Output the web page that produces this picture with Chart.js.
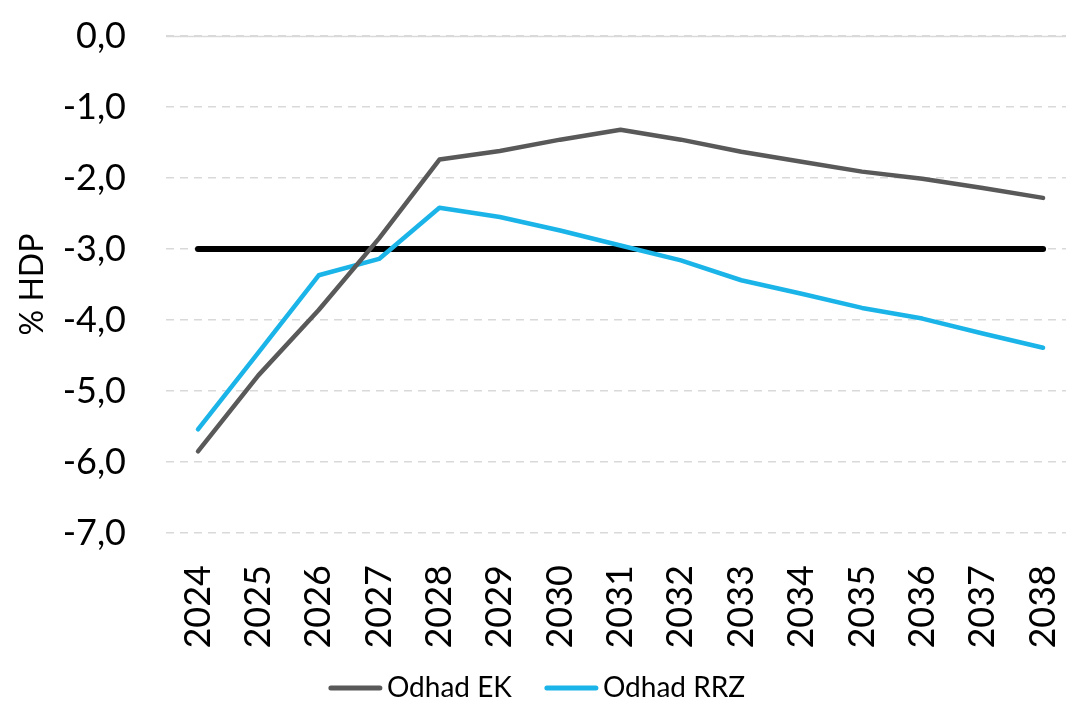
<!DOCTYPE html>
<html>
<head>
<meta charset="utf-8">
<script src="https://cdn.jsdelivr.net/npm/chart.js@4"></script>
<style>
  html, body { margin: 0; padding: 0; background: #fff; }
  #wrap { width: 1066px; height: 701px; }
</style>
</head>
<body>
<div id="wrap"><canvas id="chart"></canvas></div>
<script>
// --- Data ---
const years = [2024, 2025, 2026, 2027, 2028, 2029, 2030, 2031, 2032, 2033, 2034, 2035, 2036, 2037, 2038];
const odhadEK  = [-5.85, -4.78, -3.86, -2.85, -1.74, -1.62, -1.46, -1.32, -1.46, -1.63, -1.77, -1.91, -2.01, -2.14, -2.28];
const odhadRRZ = [-5.54, -4.46, -3.37, -3.14, -2.42, -2.55, -2.74, -2.95, -3.16, -3.44, -3.63, -3.83, -3.98, -4.19, -4.39];
const limit    = [-3, -3, -3, -3, -3, -3, -3, -3, -3, -3, -3, -3, -3, -3, -3];
const yTicks   = [0, -1, -2, -3, -4, -5, -6, -7];

const FONT = 'Lato, "Open Sans", sans-serif';
const pts = arr => arr.map((v, i) => ({ x: years[i], y: v }));

// solid line at 0 (top gridline), the rest are dashed
const zeroLine = {
    id: 'zeroLine',
    beforeDatasetsDraw(chart) {
        const { ctx, chartArea, scales } = chart;
        const y = Math.round(scales.y.getPixelForValue(0)) + 0.5;
        ctx.save();
        ctx.strokeStyle = '#d9d9d9';
        ctx.lineWidth = 1.5;
        ctx.beginPath();
        ctx.moveTo(chartArea.left, y);
        ctx.lineTo(chartArea.right, y);
        ctx.stroke();
        ctx.restore();
    }
};

// legend like the excel one: short line, small gap, text
const lineLegend = {
    id: 'lineLegend',
    afterDraw(chart) {
        const { ctx } = chart;
        const items = chart.data.datasets.filter(d => d.showInLegend);
        const lineW = 53, gap = 5, itemGap = 33, y = 688;
        ctx.save();
        ctx.font = '28px ' + FONT;
        const widths = items.map(d => lineW + gap + ctx.measureText(d.label).width);
        const total = widths.reduce((a, b) => a + b, 0) + itemGap * (items.length - 1);
        let x = (chart.width - total) / 2 + 4;
        items.forEach((d, i) => {
            ctx.strokeStyle = d.borderColor;
            ctx.lineWidth = 5;
            ctx.lineCap = 'round';
            ctx.beginPath();
            ctx.moveTo(x + 2, y);
            ctx.lineTo(x + lineW - 2, y);
            ctx.stroke();
            ctx.fillStyle = '#000';
            ctx.textBaseline = 'middle';
            ctx.fillText(d.label, x + lineW + gap, y);
            x += widths[i] + itemGap;
        });
        ctx.restore();
    }
};

new Chart(document.getElementById('chart'), {
    type: 'line',
    data: {
        datasets: [
            { label: 'Odhad EK', showInLegend: true, data: pts(odhadEK), borderColor: '#595959', borderWidth: 4.5, pointRadius: 0, borderCapStyle: 'round', borderJoinStyle: 'round' },
            { label: 'Odhad RRZ', showInLegend: true, data: pts(odhadRRZ), borderColor: '#1ab4e8', borderWidth: 4.5, pointRadius: 0, borderCapStyle: 'round', borderJoinStyle: 'round' },
            { label: 'limit', data: pts(limit), borderColor: '#000', borderWidth: 6, pointRadius: 0, borderCapStyle: 'round' }
        ]
    },
    options: {
        responsive: true,
        maintainAspectRatio: false,
        animation: false,
        layout: { padding: { top: 36, right: 0, left: 0, bottom: 40 } },
        plugins: {
            tooltip: { enabled: false },
            legend: { display: false }
        },
        scales: {
            x: {
                type: 'linear',
                min: 2023.47, max: 2038.38,
                grid: { display: false },
                border: { display: false },
                afterBuildTicks: s => { s.ticks = years.map(v => ({ value: v })); },
                afterFit: s => { s.paddingLeft = 0; s.paddingRight = 0; s.height = 128; },
                ticks: {
                    color: '#000',
                    font: { family: FONT, size: 36 },
                    maxRotation: 90, minRotation: 90,
                    padding: 24,
                    callback: v => String(v)
                }
            },
            y: {
                min: -7, max: 0,
                border: { display: false, dash: [8, 6] },
                grid: { color: '#d9d9d9', lineWidth: 1.5, drawTicks: false },
                afterBuildTicks: s => { s.ticks = yTicks.map(v => ({ value: v })); },
                afterFit: s => { s.paddingTop = 0; s.paddingBottom = 0; s.width = 166; },
                ticks: {
                    color: '#000',
                    padding: 40,
                    font: { family: FONT, size: 36 },
                    callback: v => v.toFixed(1).replace('.', ',')
                },
                title: {
                    display: true,
                    text: '% HDP',
                    color: '#000',
                    font: { family: FONT, size: 32 },
                    padding: { top: 13, bottom: 0 }
                }
            }
        }
    },
    plugins: [zeroLine, lineLegend]
});
</script>
</body>
</html>
